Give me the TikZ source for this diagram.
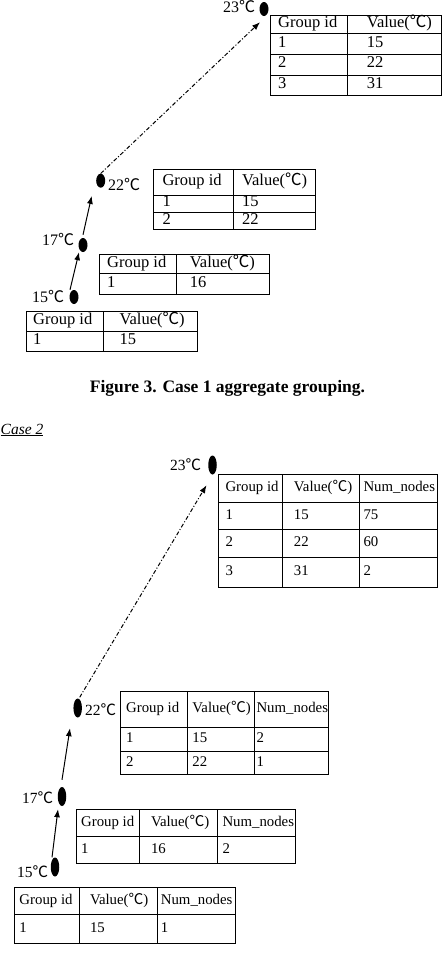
\documentclass[tikz,border=0pt]{standalone}
\usepackage{fontspec}
\setmainfont{Liberation Serif}
\newfontfamily\cjk{Noto Sans CJK SC}
\newcommand{\degc}{{\cjk ℃}}
\usetikzlibrary{arrows.meta,shapes.geometric,calc}

\begin{document}
\begin{tikzpicture}[x=1pt,y=-1pt,
  cell/.style={draw,line width=1.1pt,anchor=north west,inner sep=0pt},
  txt/.style={anchor=west,inner sep=0pt,text height=.72em,text depth=.12em,font=\fontsize{16.5}{18}\selectfont},
  stxt/.style={txt,font=\fontsize{14.8}{16}\selectfont},
  dot/.style={ellipse,fill,inner sep=0pt,minimum width=9,minimum height=14},
  sdot/.style={dot,minimum width=8.5,minimum height=19},
  temp/.style={anchor=base west,inner sep=0pt,text height=.75em,font=\fontsize{16}{18}\selectfont},
  stemp/.style={temp,font=\fontsize{15.5}{17}\selectfont},
  link/.style={line width=1pt,-{Latex[length=8pt,width=6pt]}},
  dashlink/.style={link,dash pattern=on 4pt off 2pt on 1pt off 2pt}]
\useasboundingbox (0,0) rectangle (446,954);

\node[dot] (p15) at (74,297) {};
\node[dot] (p17) at (83,245) {};
\node[dot] (p22) at (100.7,180.7) {};
\node[dot] (p23) at (264,9) {};
\node[temp] (l15) at (32,302) {15\degc};
\node[temp] (l17) at (42,245) {17\degc};
\node[temp] (l22) at (108,190) {22\degc};
\node[temp] (l23) at (223,12.5) {23\degc};
\draw[link] ($(p15.north)+(-4,0)$) -- ($(p17.south)+(-4,0)$);
\draw[link] ($(p17.north)+(0,-3)$) -- ($(p22.south)+(-9,8)$);
\draw[dashlink] (p22.north) -- ($(p23.south)+(-4,6)$);

\foreach \y/\h/\ca/\cb [count=\r] in {14.7/18.6/Group id/Value(\degc),33.3/20.7/1/15,54/20.7/2/22,74.7/20/3/31}{
  \node[cell,minimum width=76.7,minimum height=\h] (a\r1) at (270,\y) {};
  \node[cell,minimum width=94,minimum height=\h] (a\r2) at (346.7,\y) {};
  \node[txt] (a\r1t) at ([xshift=8]a\r1.west) {\ca};
  \node[txt] (a\r2t) at ([xshift=20]a\r2.west) {\cb};
}
\foreach \y/\h/\ca/\cb [count=\r] in {169.3/25.7/Group id/Value(\degc),195/16.7/1/15,211.7/17.6/2/22}{
  \node[cell,minimum width=80,minimum height=\h] (b\r1) at (153.3,\y) {};
  \node[cell,minimum width=81.7,minimum height=\h] (b\r2) at (233.3,\y) {};
  \node[txt] (b\r1t) at ([xshift=9]b\r1.west) {\ca};
  \node[txt] (b\r2t) at ([xshift=8.5]b\r2.west) {\cb};
}
\foreach \y/\h/\ca/\cb [count=\r] in {254/19.3/Group id/Value(\degc),273.3/20.7/1/16}{
  \node[cell,minimum width=76.7,minimum height=\h] (c\r1) at (99,\y) {};
  \node[cell,minimum width=93.6,minimum height=\h] (c\r2) at (175.7,\y) {};
  \node[txt] (c\r1t) at ([xshift=8]c\r1.west) {\ca};
  \node[txt] (c\r2t) at ([xshift=14]c\r2.west) {\cb};
}
\foreach \y/\h/\ca/\cb [count=\r] in {311/19.7/Group id/Value(\degc),330.7/20.3/1/15}{
  \node[cell,minimum width=77.3,minimum height=\h] (d\r1) at (26,\y) {};
  \node[cell,minimum width=94,minimum height=\h] (d\r2) at (103.3,\y) {};
  \node[txt] (d\r1t) at ([xshift=7]d\r1.west) {\ca};
  \node[txt] (d\r2t) at ([xshift=16]d\r2.west) {\cb};
}

\node[font=\bfseries\fontsize{17.5}{20}\selectfont,anchor=base,inner sep=0pt] (cap) at (227.5,392) {Figure 3. Case 1 aggregate grouping.};
\node[font=\itshape\fontsize{15.5}{18}\selectfont,anchor=base west,inner sep=0pt] (case2) at (0.5,434) {\underline{Case 2}};

\node[sdot] (q15) at (55,867) {};
\node[sdot] (q17) at (62,796.5) {};
\node[sdot] (q22) at (77.7,708) {};
\node[sdot] (q23) at (212.5,465) {};
\node[stemp] (m15) at (17,877) {15\degc};
\node[stemp] (m17) at (22,803) {17\degc};
\node[stemp] (m22) at (85,715) {22\degc};
\node[stemp] (m23) at (170,470) {23\degc};
\draw[link] ($(q15.north)+(-3,0)$) -- ($(q17.south)+(-4,3)$);
\draw[link] ($(q17.north)+(0,-7)$) -- ($(q22.south)+(-7.7,10.5)$);
\draw[dashlink] ($(q22.north)+(2,-1)$) -- ($(q23.south)+(-6,10.5)$);

\foreach \y/\h/\ca/\cb/\cc [count=\r] in {474.3/27.4/Group id/Value(\degc)/Num\_nodes,501.7/27.6/1/15/75,529.3/27.4/2/22/60,556.7/30/3/31/2}{
  \node[cell,minimum width=63.4,minimum height=\h] (e\r1) at (218.3,\y) {};
  \node[cell,minimum width=77.6,minimum height=\h] (e\r2) at (281.7,\y) {};
  \node[cell,minimum width=78,minimum height=\h] (e\r3) at (359.3,\y) {};
  \node[stxt] (e\r1t) at ([xshift=7]e\r1.west) {\ca};
  \node[stxt] (e\r2t) at ([xshift=12]e\r2.west) {\cb};
  \node[stxt] (e\r3t) at ([xshift=4]e\r3.west) {\cc};
}
\foreach \y/\h/\ca/\cb/\cc [count=\r] in {691/35.7/Group id/Value(\degc)/Num\_nodes,726.7/24.3/1/15/2,751/23.3/2/22/1}{
  \node[cell,minimum width=66.7,minimum height=\h] (f\r1) at (120,\y) {};
  \node[cell,minimum width=67.6,minimum height=\h] (f\r2) at (186.7,\y) {};
  \node[cell,minimum width=74,minimum height=\h] (f\r3) at (254.3,\y) {};
  \node[stxt] (f\r1t) at ([xshift=6]f\r1.west) {\ca};
  \node[stxt] (f\r2t) at ([xshift=5.5]f\r2.west) {\cb};
  \node[stxt] (f\r3t) at ([xshift=2]f\r3.west) {\cc};
}
\foreach \y/\h/\ca/\cb/\cc [count=\r] in {809/27/Group id/Value(\degc)/Num\_nodes,836/27.3/1/16/2}{
  \node[cell,minimum width=63.3,minimum height=\h] (g\r1) at (76,\y) {};
  \node[cell,minimum width=78,minimum height=\h] (g\r2) at (139.3,\y) {};
  \node[cell,minimum width=77.7,minimum height=\h] (g\r3) at (217.3,\y) {};
  \node[stxt] (g\r1t) at ([xshift=5]g\r1.west) {\ca};
  \node[stxt] (g\r2t) at ([xshift=11.5]g\r2.west) {\cb};
  \node[stxt] (g\r3t) at ([xshift=5]g\r3.west) {\cc};
}
\foreach \y/\h/\ca/\cb/\cc [count=\r] in {886.7/27.6/Group id/Value(\degc)/Num\_nodes,914.3/29/1/15/1}{
  \node[cell,minimum width=65,minimum height=\h] (h\r1) at (14.3,\y) {};
  \node[cell,minimum width=77.4,minimum height=\h] (h\r2) at (79.3,\y) {};
  \node[cell,minimum width=78.3,minimum height=\h] (h\r3) at (156.7,\y) {};
  \node[stxt] (h\r1t) at ([xshift=5]h\r1.west) {\ca};
  \node[stxt] (h\r2t) at ([xshift=10.5]h\r2.west) {\cb};
  \node[stxt] (h\r3t) at ([xshift=4]h\r3.west) {\cc};
}
\end{tikzpicture}
\end{document}
